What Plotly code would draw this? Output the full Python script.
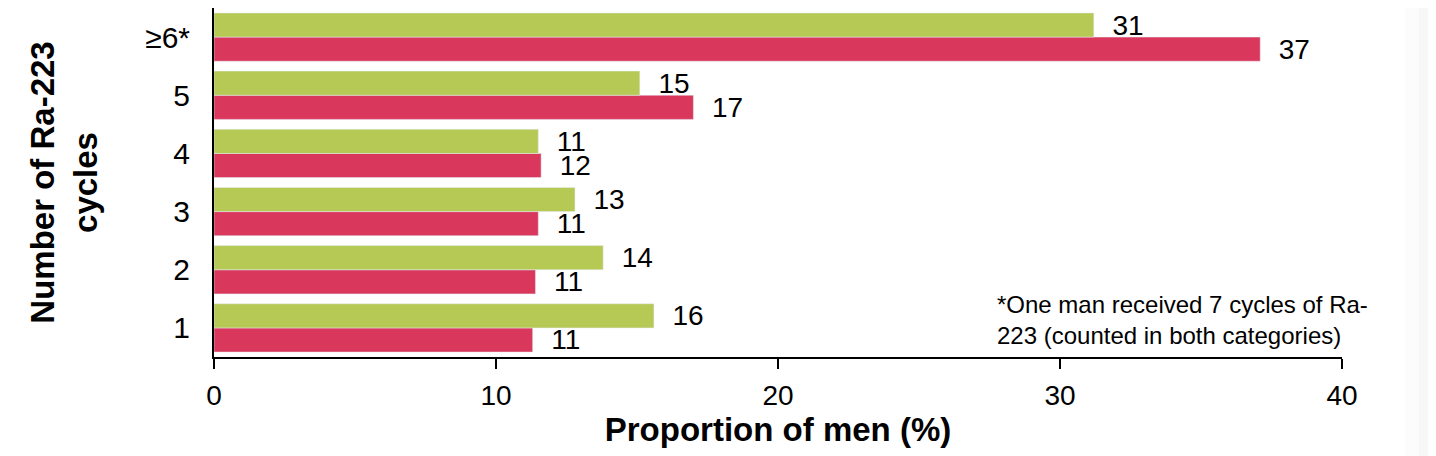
import plotly.graph_objects as go

categories = ["1", "2", "3", "4", "5", "≥6*"]
green_values = [15.6, 13.8, 12.8, 11.5, 15.1, 31.2]
red_values = [11.3, 11.4, 11.5, 11.6, 17.0, 37.1]
green_labels = ["16", "14", "13", "11", "15", "31"]
red_labels = ["11", "11", "11", "12", "17", "37"]
x_ticks = [0, 10, 20, 30, 40]

GREEN = "#B5C954"
RED = "#D9385C"
FONT = "Liberation Sans, Arial, sans-serif"

fig = go.Figure()
fig.add_trace(go.Bar(
    y=categories, x=red_values, orientation="h", marker_color=RED,
    text=["  " + t for t in red_labels], textposition="outside",
    textfont=dict(size=28, color="black", family=FONT),
    constraintext="none", cliponaxis=False, showlegend=False,
))
fig.add_trace(go.Bar(
    y=categories, x=green_values, orientation="h", marker_color=GREEN,
    text=["  " + t for t in green_labels], textposition="outside",
    textfont=dict(size=28, color="black", family=FONT),
    constraintext="none", cliponaxis=False, showlegend=False,
))

# subtle grey edge at the right of the slide
shapes = []
for x0, x1, col in [(1.056, 1.068, "#fcfcfc"), (1.068, 1.078, "#f7f7f7"), (1.078, 1.2, "#f1f1f1")]:
    shapes.append(dict(type="rect", xref="paper", yref="paper", x0=x0, x1=x1, y0=-0.4, y1=1.1,
                       fillcolor=col, line=dict(width=0), layer="below"))

fig.update_layout(
    width=1436, height=456,
    margin=dict(l=206, r=102, t=0, b=107),
    barmode="group", bargap=0.17, bargroupgap=0,
    plot_bgcolor="white", paper_bgcolor="white",
    font=dict(family=FONT, color="black"),
    shapes=shapes,
    xaxis=dict(
        range=[0, 40], tickvals=x_ticks, ticks="outside", ticklen=10,
        tickwidth=2, tickcolor="black", showline=True, linecolor="black",
        linewidth=2, showgrid=False, zeroline=False, automargin=False,
        tickfont=dict(size=28, family=FONT), ticklabelstandoff=2,
        title=dict(text="<b>Proportion of men (%)</b>", font=dict(size=33, family=FONT), standoff=0),
    ),
    yaxis=dict(
        categoryorder="array", categoryarray=categories,
        showline=True, linecolor="black", linewidth=2, ticks="",
        showgrid=False, zeroline=False, automargin=False,
        tickfont=dict(size=30, family=FONT), ticklabelstandoff=16,
        title=dict(text="<b>Number of Ra-223<br>cycles</b>", font=dict(size=33, family=FONT), standoff=38),
    ),
    annotations=[dict(
        text="*One man received 7 cycles of Ra-<br>223 (counted in both categories)",
        xref="x", yref="paper", x=27.7, y=0.106, xanchor="left", yanchor="middle",
        align="left", showarrow=False, font=dict(size=24, family=FONT, color="black"),
    )],
)

fig.write_html("out.html")
